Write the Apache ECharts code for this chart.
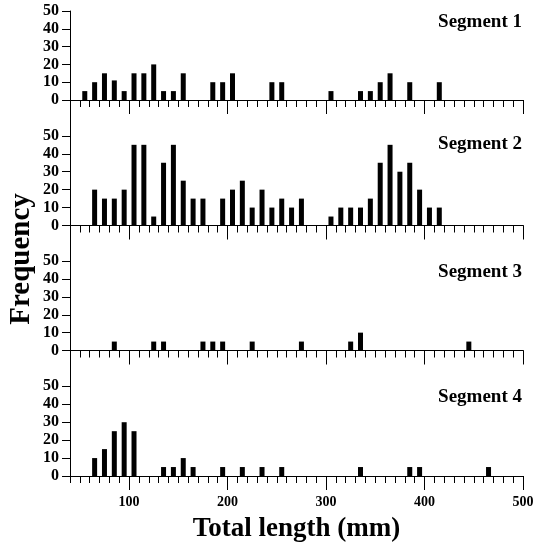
<!DOCTYPE html>
<html>
<head>
<meta charset="utf-8">
<script src="https://cdn.jsdelivr.net/npm/echarts@6/dist/echarts.min.js"></script>
<style>
  html, body { margin: 0; padding: 0; background: #fff; }
  #chart { width: 537px; height: 549px; }
</style>
</head>
<body>
<div id="chart"></div>
<script>
// bin centres (mm) and counts, one pair per segment
var seg1Lengths = [55, 65, 75, 85, 95, 105, 115, 125, 135, 145, 155, 185, 195, 205, 245, 255, 305, 335, 345, 355, 365, 385, 415];
var seg1Counts  = [5, 10, 15, 11, 5, 15, 15, 20, 5, 5, 15, 10, 10, 15, 10, 10, 5, 5, 5, 10, 15, 10, 10];

var seg2Lengths = [65, 75, 85, 95, 105, 115, 125, 135, 145, 155, 165, 175, 195, 205, 215, 225, 235, 245, 255, 265, 275, 305, 315, 325, 335, 345, 355, 365, 375, 385, 395, 405, 415];
var seg2Counts  = [20, 15, 15, 20, 45, 45, 5, 35, 45, 25, 15, 15, 15, 20, 25, 10, 20, 10, 15, 10, 15, 5, 10, 10, 10, 15, 35, 45, 30, 35, 20, 10, 10];

var seg3Lengths = [85, 125, 135, 175, 185, 195, 225, 275, 325, 335, 445];
var seg3Counts  = [5, 5, 5, 5, 5, 5, 5, 5, 5, 10, 5];

var seg4Lengths = [65, 75, 85, 95, 105, 135, 145, 155, 165, 195, 215, 235, 255, 335, 385, 395, 465];
var seg4Counts  = [10, 15, 25, 30, 25, 5, 5, 10, 5, 5, 5, 5, 5, 5, 5, 5, 5];

var segNames = ['Segment 1', 'Segment 2', 'Segment 3', 'Segment 4'];
var yLabelValues = [0, 10, 20, 30, 40, 50];
var xLabelValues = [100, 200, 300, 400, 500];

var segments = [
  [seg1Lengths, seg1Counts],
  [seg2Lengths, seg2Counts],
  [seg3Lengths, seg3Counts],
  [seg4Lengths, seg4Counts]
];

var font = '"Liberation Serif", "Times New Roman", serif';
var panels = [
  { top: 11, height: 89, max: 50, labelY: 24 },
  { top: 100, height: 125.5, max: 70, labelY: 146 },
  { top: 225.5, height: 125, max: 70, labelY: 274 },
  { top: 350.5, height: 125.5, max: 70, labelY: 399 }
];

var grid = [], xAxis = [], yAxis = [], series = [], graphic = [];

panels.forEach(function (p, i) {
  var last = i === panels.length - 1;
  grid.push({ left: 70, right: 14, top: p.top, height: p.height });

  // minor ticks every 10 mm
  xAxis.push({
    type: 'value', gridIndex: i, position: 'bottom', offset: 0,
    min: 40, max: 500, interval: 10,
    axisLine: { lineStyle: { color: '#000', width: 1 } },
    axisTick: { length: 7, lineStyle: { color: '#000' } },
    axisLabel: { show: false },
    splitLine: { show: false }
  });
  // major ticks at hundreds
  xAxis.push({
    type: 'value', gridIndex: i, position: 'bottom', offset: 0,
    min: 40, max: 500,
    axisLine: { show: false },
    axisTick: { length: 14, customValues: xLabelValues, lineStyle: { color: '#000' } },
    axisLabel: last ? {
      customValues: xLabelValues, margin: 19,
      color: '#000', fontFamily: font, fontWeight: 'bold', fontSize: 14
    } : { show: false },
    splitLine: { show: false },
    name: last ? 'Total length (mm)' : '',
    nameLocation: 'middle', nameGap: 40,
    nameTextStyle: { color: '#000', fontFamily: font, fontWeight: 'bold', fontSize: 27 }
  });

  yAxis.push({
    type: 'value', gridIndex: i, min: 0, max: p.max, interval: 10,
    axisLine: { show: true, lineStyle: { color: '#000', width: 1 } },
    axisTick: { show: true, length: 8, customValues: yLabelValues, lineStyle: { color: '#000' } },
    axisLabel: {
      customValues: yLabelValues, margin: 11,
      color: '#000', fontFamily: font, fontWeight: 'bold', fontSize: 16
    },
    splitLine: { show: false }
  });

  var lens = segments[i][0], counts = segments[i][1];
  series.push({
    type: 'bar',
    name: segNames[i],
    xAxisIndex: i * 2,
    yAxisIndex: i,
    barWidth: 5,
    itemStyle: { color: '#000' },
    data: lens.map(function (v, k) { return [v, counts[k]]; })
  });

  graphic.push({
    type: 'text', right: 15, top: p.labelY - 11,
    style: { text: segNames[i], fill: '#000', font: 'bold 19px ' + font }
  });
});

graphic.push({
  type: 'text', x: 7, y: 259, rotation: Math.PI / 2,
  style: {
    text: 'Frequency', fill: '#000', font: 'bold 29px ' + font,
    align: 'center', verticalAlign: 'top'
  }
});

var option = {
  backgroundColor: '#fff',
  animation: false,
  grid: grid,
  xAxis: xAxis,
  yAxis: yAxis,
  series: series,
  graphic: graphic
};

var myChart = echarts.init(document.getElementById('chart'));
myChart.setOption(option, true);
</script>
</body>
</html>
